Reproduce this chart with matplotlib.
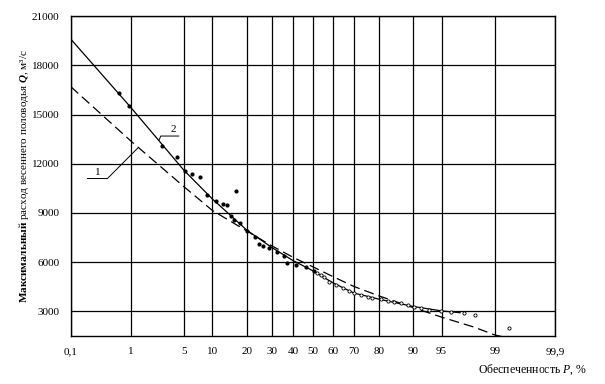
# module import
from statistics import NormalDist
import numpy as np
import matplotlib
matplotlib.use('Agg')
import matplotlib.pyplot as plt

# global parameters
plt.rcParams.update({'font.family': 'Liberation Serif',
                     'mathtext.fontset': 'custom',
                     'mathtext.rm': 'Liberation Serif',
                     'mathtext.it': 'Liberation Serif:italic',
                     'mathtext.bf': 'Liberation Serif:bold',
                     'mathtext.bfit': 'Liberation Serif:italic:bold'})

# data: probability of exceedance P (%) and max spring flood discharge Q (m3/s)
x_ticks = [0.1, 1, 5, 10, 20, 30, 40, 50, 60, 70, 80, 90, 95, 99, 99.9]
x_tick_labels = ['0,1', '1', '5', '10', '20', '30', '40', '50', '60', '70',
                 '80', '90', '95', '99', '99,9']
y_ticks = [3000, 6000, 9000, 12000, 15000, 18000, 21000]

# curve 2 (solid)
p_curve2 = [0.1, 1, 5, 10, 20, 30, 40, 50, 60, 70, 80, 90, 95, 97]
q_curve2 = [19600, 15450, 11600, 9850, 7950, 6900, 6100, 5480, 4750, 4120,
            3750, 3300, 3030, 2920]

# curve 1 (dashed)
p_curve1 = [0.1, 1, 5, 10, 20, 30, 40, 50, 60, 70, 80, 90, 95, 98, 99, 99.3]
q_curve1 = [16700, 13400, 10600, 9150, 7900, 7000, 6300, 5720, 5130, 4520,
            3950, 3230, 2650, 2050, 1560, 1420]

# observed values, filled dots
p_obs = [0.67, 0.95, 2.7, 4.1, 5.1, 6.2, 7.5, 8.9, 10.8, 12.6, 13.8, 14.8,
         15.7, 16.3, 17.7, 20.2, 22.9, 24.6, 26.1, 28.8, 32.6, 35.7, 37.3,
         41.4, 46.4, 50.7]
q_obs = [16290, 15500, 13080, 12430, 11550, 11350, 11170, 10090, 9750, 9550,
         9480, 8830, 8570, 10350, 8370, 7900, 7510, 7090, 6980, 6840, 6640,
         6380, 5970, 5830, 5690, 5480]

# observed values, open circles
p_obs_open = [52.4, 54.0, 55.8, 58.2, 61.6, 64.8, 67.9, 70.1, 73.0, 75.8,
              77.7, 80.8, 83.0, 85.0, 86.9, 88.7, 90.2, 91.6, 93.1, 94.9,
              96.1, 97.3, 98.1, 99.39]
q_obs_open = [5320, 5220, 5110, 4810, 4610, 4400, 4260, 4100, 4000, 3900,
              3800, 3740, 3630, 3550, 3490, 3390, 3290, 3190, 3080, 3020,
              2980, 2920, 2780, 1970]

# normal probability scale
nd = NormalDist()


def prob_fwd(p):
    p = np.clip(np.asarray(p, dtype=float), 1e-7, 100 - 1e-7)
    return np.vectorize(lambda v: nd.inv_cdf(v / 100), otypes=[float])(p)


def prob_inv(z):
    z = np.asarray(z, dtype=float)
    return np.vectorize(lambda v: nd.cdf(v) * 100, otypes=[float])(z)


# visualisation
fig = plt.figure(figsize=(6.05, 3.84), dpi=100)
ax = fig.add_axes([0.117, 0.125, 0.8, 0.833])
ax.set_xscale('function', functions=(prob_fwd, prob_inv))
ax.set_xlim(0.1, 99.9)
ax.set_ylim(1500, 21000)

ax.plot(p_curve2, q_curve2, color='black', linewidth=0.9)
ax.plot(p_curve1, q_curve1, color='black', linewidth=0.9, dashes=(8, 4))
ax.plot(p_obs, q_obs, 'o', color='black', markersize=2.0)
ax.plot(p_obs_open, q_obs_open, 'o', markerfacecolor='white',
        markeredgecolor='black', markersize=2.3, markeredgewidth=0.6)

# curve labels with leader lines
ax.plot([1.26, 0.437, 0.2], [12940, 11100, 11100], color='black', linewidth=0.7)
ax.text(0.3, 11200, '1', fontsize=8, ha='center', va='bottom')
ax.plot([2.48, 2.61, 4.35], [13440, 13690, 13690], color='black', linewidth=0.7)
ax.text(3.7, 13790, '2', fontsize=8, ha='center', va='bottom')

# ticks and grid
ax.set_xticks(x_ticks)
ax.set_xticklabels(x_tick_labels)
ax.set_yticks(y_ticks)
ax.minorticks_off()
ax.tick_params(length=0, labelsize=8, pad=8)
ax.grid(True, color='black', linewidth=0.9)
for s in ax.spines.values():
    s.set_linewidth(1.0)

ax.set_ylabel(r'$\mathbf{Максимальный}$ расход весеннего половодья '
              r'$\mathbfit{Q}$, м³/с', fontsize=8, labelpad=1)
fig.text(0.97, 0.03, r'Обеспеченность $P$, %', fontsize=8.5, ha='right')

fig.savefig('out.png', dpi=100)
